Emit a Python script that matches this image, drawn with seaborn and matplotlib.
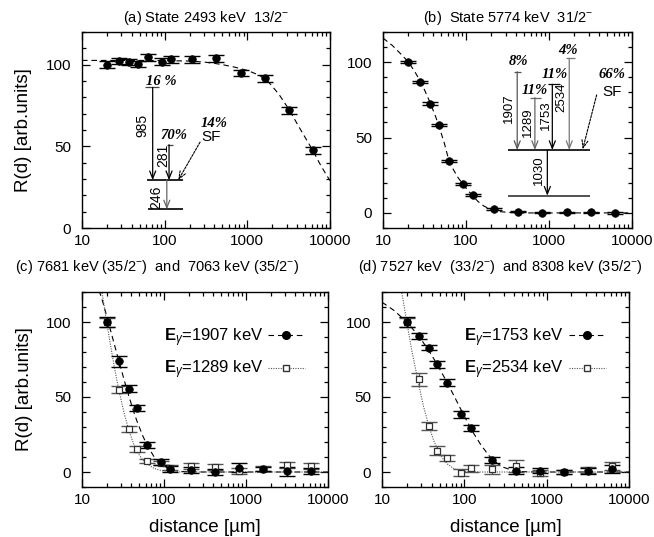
import matplotlib
matplotlib.use("Agg")
import matplotlib.pyplot as plt
import pandas as pd
import seaborn as sns
from matplotlib.lines import Line2D
from matplotlib.ticker import LogLocator, MultipleLocator, NullFormatter

# ---------------------------------------------------------------- data
distance = [20, 28, 37, 47, 62, 92, 120, 215, 420, 830, 1630, 3200, 6200]

# (a) 2493 keV state
a_ratio = [100, 102.3, 101.4, 100.4, 104.4, 101.8, 103.2, 103.2, 104, 95, 91.6, 72, 47.6]
a_err = [2.0, 2.0, 1.8, 2.0, 2.2, 2.0, 2.0, 2.0, 2.2, 2.0, 2.0, 2.0, 2.0]
a_fit_x = [10, 50, 100, 200, 300, 400, 500, 700, 1000, 1400, 1800, 2400, 3200,
           4200, 5200, 6200, 7500, 8800, 10000]
a_fit_y = [102.6, 102.6, 102.5, 102.2, 101.6, 100.8, 100.0, 98.5, 96.5, 93.5,
           89.5, 82, 72.5, 62, 54, 47.5, 39.5, 33.5, 29]

# (b) 5774 keV state
b_ratio = [100.2, 86.9, 72.5, 58.2, 34.4, 19.1, 11.8, 2.4, 0.9, 0.2, 0.3, 0.3, -0.2]
b_err = [0.8, 0.8, 0.8, 0.8, 0.8, 0.8, 0.8, 0.6, 0.5, 0.5, 0.5, 0.5, 0.5]
b_fit_x = [10, 13, 16, 20, 24, 28, 32, 37, 42, 47, 55, 62, 70, 80, 92, 105, 120,
           140, 165, 200, 250, 350, 500, 10000]
b_fit_y = [116, 111, 106, 100.5, 94, 87.5, 81, 73, 65.5, 58, 46, 35, 29, 23.5,
           19, 15, 11.5, 7.5, 4.5, 2.2, 0.9, 0.2, 0, 0]

# (c) 1907 keV and 1289 keV lines
c_1907 = [100, 73.8, 55.6, 42.8, 17.7, 6.7, 2.0, 1.3, 0.0, 3.0, 2.0, 0.5, 1.0]
c_1907_err = [3.5, 3.5, 2.2, 2.2, 2.0, 2.0, 2.0, 2.0, 2.0, 3.0, 1.5, 3.0, 2.0]
c_1289 = [100, 55, 28.8, 15.5, 7.3, 6.0, 3.0, 4.0, 3.5, 0.5, 2.3, 4.5, 4.0]
c_1289_err = [3.0, 2.4, 2.0, 2.0, 1.5, 1.5, 1.5, 2.0, 2.0, 2.0, 1.5, 2.0, 2.0]
c_1907_fit_x = [16.2, 18, 20, 24, 28, 33, 37, 42, 47, 55, 62, 75, 92, 110, 130,
                160, 200, 300, 10000]
c_1907_fit_y = [121, 113, 104, 88, 74.5, 60.5, 51.2, 41.4, 33.6, 24.2, 18.0,
                10.5, 5.2, 2.8, 1.2, 0.4, 0.1, 0, 0]
c_1289_fit_x = [17.4, 18, 20, 22, 25, 28, 32, 37, 42, 47, 55, 62, 75, 92, 120,
                150, 10000]
c_1289_fit_y = [121, 116, 100, 86.2, 69, 55.3, 41.1, 28.4, 19.6, 13.5, 8.0,
                5.5, 2.5, 1.0, 0.3, 0, 0]

# (d) 1753 keV and 2534 keV lines
d_1753 = [100, 90.7, 82.9, 71.8, 59.6, 38.5, 29.1, 8.0, 1.0, 1.0, 0.0, 1.0, 2.0]
d_1753_err = [3.5, 2.2, 1.7, 2.2, 2.2, 2.2, 2.0, 2.0, 2.5, 1.5, 1.5, 2.0, 2.5]
d_2534 = [100, 61.8, 30.7, 14.2, 9.6, -0.4, 2.5, 2.0, 4.0, -0.5, 0.0, 1.3, 4.0]
d_2534_err = [3.0, 4.4, 2.8, 3.0, 2.0, 2.4, 2.5, 3.0, 4.0, 2.0, 1.5, 2.0, 2.5]
d_1753_fit_x = [10, 14, 20, 28, 37, 47, 62, 75, 92, 110, 130, 160, 200, 250,
                300, 400, 500, 700, 1000, 10000]
d_1753_fit_y = [113.2, 107.7, 100, 90.6, 81.0, 71.6, 59.5, 50.7, 41.1, 32.9,
                25.7, 17.8, 10.8, 5.8, 3.1, 0.9, 0.3, 0.03, 0, 0]
d_2534_fit_x = [17.2, 18, 20, 23, 28, 32, 37, 42, 47, 55, 62, 75, 92, 120, 150,
                10000]
d_2534_fit_y = [121, 115, 100, 81, 58, 43.5, 30.7, 21.7, 15.3, 8.8, 5.4, 2.2,
                0.7, 0.1, 0, 0]

x_ticks = [10, 100, 1000, 10000]
x_tick_labels = ["10", "100", "1000", "10000"]
y_ticks = [0, 50, 100]

# ---------------------------------------------------------------- style
sns.set_theme(style="ticks")
plt.rcParams["font.family"] = ["Liberation Sans", "DejaVu Sans"]
plt.rcParams["mathtext.fontset"] = "custom"
plt.rcParams["mathtext.rm"] = "Liberation Sans"
plt.rcParams["mathtext.bf"] = "Liberation Sans:bold"
plt.rcParams["mathtext.it"] = "Liberation Sans:italic"
plt.rcParams["axes.edgecolor"] = "black"
plt.rcParams["axes.linewidth"] = 1.0
plt.rcParams["text.color"] = "black"
plt.rcParams["axes.labelcolor"] = "black"
plt.rcParams["legend.labelcolor"] = "black"

TICK_FS = 11
LABEL_FS = 13.5
TITLE_FS = 10.5
DASHED = (0, (5, 3.5))
DOTTED = (0, (1, 1.2))
PCT_FONT = dict(family="Liberation Serif", style="italic", weight="bold", size=10.5)

W, H = 654, 537
fig = plt.figure(figsize=(W / 100, H / 100), dpi=100)


def add_axes(left, top, right, bottom):
    return fig.add_axes([left / W, 1 - bottom / H, (right - left) / W, (bottom - top) / H])


ax_a = add_axes(82, 32, 330, 228)
ax_b = add_axes(383, 32, 632, 228)
ax_c = add_axes(82, 292, 328, 487)
ax_d = add_axes(382, 292, 629, 487)


def style_axes(ax, ymin):
    ax.set_xscale("log")
    ax.set_xlim(10, 10000)
    ax.set_ylim(ymin, 120)
    ax.set_xticks(x_ticks, labels=x_tick_labels)
    ax.xaxis.set_minor_locator(LogLocator(base=10, subs=range(2, 10)))
    ax.xaxis.set_minor_formatter(NullFormatter())
    ax.set_yticks(y_ticks)
    ax.yaxis.set_minor_locator(MultipleLocator(10))
    ax.tick_params(which="both", direction="in", top=True, right=True,
                   color="black", width=0.9, labelsize=TICK_FS, labelcolor="black")
    ax.tick_params(which="major", length=6)
    ax.tick_params(which="minor", length=3)
    ax.tick_params(axis="x", pad=4)
    ax.tick_params(axis="y", pad=8)
    for s in ax.spines.values():
        s.set_color("black")
        s.set_linewidth(1.0)


def data_series(ax, values, errors, filled, ecolor="black"):
    df = pd.DataFrame({"distance": distance, "R": values, "err": errors})
    ax.errorbar(df["distance"], df["R"], yerr=df["err"], fmt="none", ecolor=ecolor,
                elinewidth=0.9, capsize=5.5, capthick=1.0, zorder=3)
    if filled:
        sns.scatterplot(data=df, x="distance", y="R", ax=ax, marker="o", s=30,
                        color="black", edgecolor="black", linewidth=0.5, zorder=4,
                        legend=False)
    else:
        sns.scatterplot(data=df, x="distance", y="R", ax=ax, marker="s", s=20,
                        facecolor="white", edgecolor="#333333", linewidth=0.9,
                        zorder=4, legend=False)


def fit_curve(ax, xs, ys, ls, color="black", lw=0.8):
    df = pd.DataFrame({"distance": xs, "R": ys})
    sns.lineplot(data=df, x="distance", y="R", ax=ax, color=color, lw=lw,
                 sort=False, estimator=None, zorder=2, legend=False)
    ax.lines[-1].set_linestyle(ls)


def hline(ax, x0, x1, y, color="black", lw=1.2):
    ax.plot([x0, x1], [y, y], transform=ax.transAxes, color=color, lw=lw,
            solid_capstyle="butt", zorder=5)


def arrow(ax, x0, y0, x1, y1, color="black", lw=0.9, ls="-"):
    ax.annotate("", xy=(x1, y1), xytext=(x0, y0), xycoords="axes fraction",
                textcoords="axes fraction",
                arrowprops=dict(arrowstyle="->,head_length=0.45,head_width=0.18",
                                color=color, lw=lw, linestyle=ls,
                                shrinkA=0, shrinkB=0), zorder=5)


def vlabel(ax, x, y, s, size=9.5):
    ax.text(x, y, s, transform=ax.transAxes, rotation=90, ha="center",
            va="center", fontsize=size, color="black")


def pct(ax, x, y, s):
    ax.text(x, y, s, transform=ax.transAxes, ha="center", va="center",
            color="black", **PCT_FONT)


# ---------------------------------------------------------------- (a)
style_axes(ax_a, 0)
fit_curve(ax_a, a_fit_x, a_fit_y, DASHED)
data_series(ax_a, a_ratio, a_err, filled=True)
ax_a.set_title(r"(a) State 2493 keV  13/2$^{-}$", fontsize=TITLE_FS, pad=7)

# level scheme of the 2493 keV state
hline(ax_a, 0.261, 0.409, 0.244)
hline(ax_a, 0.266, 0.409, 0.095)
hline(ax_a, 0.255, 0.310, 0.717, lw=0.9, color="#444444")
hline(ax_a, 0.341, 0.368, 0.425, lw=0.9, color="#444444")
arrow(ax_a, 0.285, 0.717, 0.285, 0.244)
arrow(ax_a, 0.351, 0.425, 0.351, 0.244)
arrow(ax_a, 0.342, 0.244, 0.342, 0.095, color="#666666")
arrow(ax_a, 0.476, 0.438, 0.388, 0.244, lw=0.8, ls=(0, (2, 1.2)))
vlabel(ax_a, 0.242, 0.523, "985", size=10)
vlabel(ax_a, 0.328, 0.371, "281", size=10)
vlabel(ax_a, 0.301, 0.158, "246", size=10)
pct(ax_a, 0.318, 0.747, "16 %")
pct(ax_a, 0.371, 0.473, "70%")
pct(ax_a, 0.532, 0.533, "14%")
ax_a.text(0.52, 0.4625, "SF", transform=ax_a.transAxes, ha="center",
          va="center", fontsize=11)

# ---------------------------------------------------------------- (b)
style_axes(ax_b, -10)
fit_curve(ax_b, b_fit_x, b_fit_y, DASHED)
data_series(ax_b, b_ratio, b_err, filled=True)
ax_b.set_title(r"(b)  State 5774 keV  31/2$^{-}$", fontsize=TITLE_FS, pad=7)

# level scheme of the 5774 keV state
hline(ax_b, 0.503, 0.831, 0.398)
hline(ax_b, 0.503, 0.831, 0.165, color="#333333")
gammas_b = [  # x, top, cap0, cap1, colour
    (0.539, 0.797, 0.525, 0.555, "#555555"),
    (0.610, 0.665, 0.592, 0.635, "#666666"),
    (0.680, 0.733, 0.661, 0.711, "black"),
    (0.748, 0.866, 0.735, 0.771, "#777777"),
]
for gx, gtop, c0, c1, col in gammas_b:
    hline(ax_b, c0, c1, gtop, lw=0.9, color=col)
    arrow(ax_b, gx, gtop, gx, 0.398, color=col)
arrow(ax_b, 0.660, 0.398, 0.660, 0.165)
arrow(ax_b, 0.858, 0.679, 0.802, 0.402, lw=0.8, ls=(0, (2, 1.2)))
vlabel(ax_b, 0.507, 0.611, "1907")
vlabel(ax_b, 0.581, 0.542, "1289")
vlabel(ax_b, 0.653, 0.577, "1753")
vlabel(ax_b, 0.718, 0.665, "2534")
vlabel(ax_b, 0.627, 0.296, "1030")
pct(ax_b, 0.543, 0.848, "8%")
pct(ax_b, 0.610, 0.699, "11%")
pct(ax_b, 0.691, 0.784, "11%")
pct(ax_b, 0.744, 0.908, "4%")
pct(ax_b, 0.918, 0.784, "66%")
ax_b.text(0.921, 0.695, "SF", transform=ax_b.transAxes, ha="center",
          va="center", fontsize=11)

# ---------------------------------------------------------------- (c)
style_axes(ax_c, -10)
fit_curve(ax_c, c_1907_fit_x, c_1907_fit_y, DASHED)
fit_curve(ax_c, c_1289_fit_x, c_1289_fit_y, DOTTED, color="#555555")
data_series(ax_c, c_1289, c_1289_err, filled=False, ecolor="#555555")
data_series(ax_c, c_1907, c_1907_err, filled=True)
ax_c.text(-0.272, 1.13, r"(c) 7681 keV (35/2$^{-}$)  and  7063 keV (35/2$^{-}$)",
          transform=ax_c.transAxes, ha="left", va="center", fontsize=TITLE_FS)

# ---------------------------------------------------------------- (d)
style_axes(ax_d, -10)
fit_curve(ax_d, d_1753_fit_x, d_1753_fit_y, DASHED)
fit_curve(ax_d, d_2534_fit_x, d_2534_fit_y, DOTTED, color="#555555")
data_series(ax_d, d_2534, d_2534_err, filled=False, ecolor="#555555")
data_series(ax_d, d_1753, d_1753_err, filled=True)
ax_d.text(-0.097, 1.13, r"(d) 7527 keV  (33/2$^{-}$)  and 8308 keV (35/2$^{-}$)",
          transform=ax_d.transAxes, ha="left", va="center", fontsize=TITLE_FS)

# axis labels (set after seaborn, which writes its own column names)
for ax in (ax_a, ax_b, ax_c, ax_d):
    ax.set_xlabel("")
    ax.set_ylabel("")
for ax in (ax_a, ax_c):
    ax.set_ylabel("R(d) [arb.units]", fontsize=LABEL_FS, color="black")
    ax.yaxis.set_label_coords(-0.2, 0.5)
for ax in (ax_c, ax_d):
    ax.set_xlabel("distance [µm]", fontsize=LABEL_FS, color="black")
    ax.xaxis.set_label_coords(0.5, -0.165)


def legend(ax, labels):
    handles = [
        Line2D([], [], color="black", lw=0.8, linestyle=DASHED, marker="o",
               markersize=5.5, markerfacecolor="black", markeredgecolor="black"),
        Line2D([], [], color="#555555", lw=0.8, linestyle=DOTTED, marker="s",
               markersize=4.5, markerfacecolor="white", markeredgecolor="#333333"),
    ]
    ax.legend(handles, labels, loc="upper right", bbox_to_anchor=(0.905, 0.825),
              frameon=False, markerfirst=False, numpoints=1, handlelength=2.2,
              handletextpad=0.3, labelspacing=0.6, fontsize=12,
              borderpad=0, borderaxespad=0)


legend(ax_c, [r"$\mathbf{E}_{\gamma}$=1907 keV", r"$\mathbf{E}_{\gamma}$=1289 keV"])
legend(ax_d, [r"$\mathbf{E}_{\gamma}$=1753 keV", r"$\mathbf{E}_{\gamma}$=2534 keV"])

fig.savefig("out.png", dpi=100)
